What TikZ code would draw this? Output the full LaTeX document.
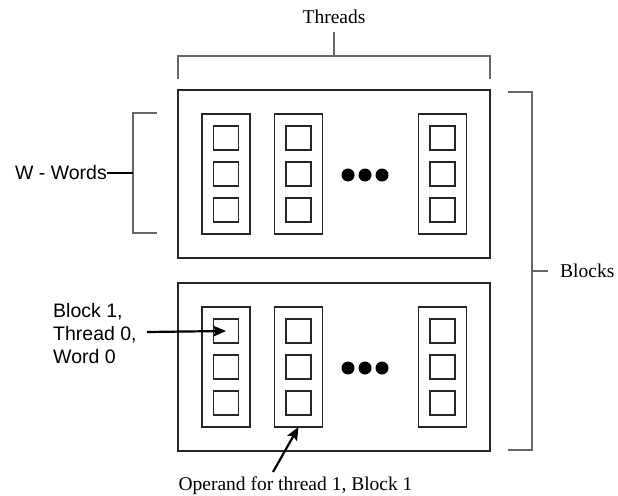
\documentclass[tikz,border=0pt]{standalone}
\usepackage{fontspec}
\setmainfont{Liberation Serif}
\setsansfont{Liberation Sans}
\usetikzlibrary{arrows.meta}

\tikzset{
  blockbox/.style={draw=black!85, line width=1.1pt, minimum width=312pt,
    minimum height=168pt, inner sep=0pt, outer sep=0pt},
  threadcol/.style={draw=black!85, line width=1.1pt, minimum width=48pt,
    minimum height=120pt, inner sep=0pt, outer sep=0pt},
  wordcell/.style={draw=black!85, line width=1.1pt, minimum width=25pt,
    minimum height=24pt, inner sep=0pt, outer sep=0pt},
  bracketline/.style={draw=black!60, line width=1.4pt},
  dotmark/.style={circle, fill=black, minimum size=13pt, inner sep=0pt},
  pointer/.style={draw=black, line width=2.2pt,
    -{Stealth[length=13pt, width=11pt, inset=2.5pt]}},
  seriflabel/.style={font=\rmfamily\fontsize{19.5}{23}\selectfont, inner sep=0pt},
  sanslabel/.style={font=\sffamily\fontsize{19.5}{23}\selectfont, inner sep=0pt}
}

\begin{document}
\begin{tikzpicture}[x=1pt, y=-1pt]
  \useasboundingbox (0,0) rectangle (618,495);

  % two blocks, each with three thread columns of three words
  \foreach \b/\cy in {0/174, 1/367} {
    \node[blockbox] (blk\b) at (334,\cy) {};
    \foreach \t/\cx in {0/226, 1/298.5, 2/442.5} {
      \node[threadcol] (col\b\t) at (\cx,\cy) {};
      \foreach \w/\dy in {0/-36, 1/0, 2/36} {
        \node[wordcell] (w\b\t\w) at (\cx,\cy+\dy) {};
      }
    }
    \foreach \d/\dx in {0/348, 1/365, 2/382} {
      \node[dotmark] (dot\b\d) at (\dx,\cy+1) {};
    }
  }

  % Threads bracket
  \node[seriflabel, anchor=base] (thr) at (334,24) {Threads};
  \coordinate (thrL) at (178,79);
  \coordinate (thrR) at (490,79);
  \coordinate (thrM) at (334,56);
  \coordinate (thrS) at (334,32);
  \draw[bracketline] (thrL) |- (thrR |- thrM) -- (thrR);
  \draw[bracketline] (thrM) -- (thrS);

  % Blocks bracket
  \node[seriflabel, anchor=base west] (blk) at (560,277) {Blocks};
  \coordinate (bkT) at (508,92);
  \coordinate (bkB) at (508,450);
  \coordinate (bkM) at (532,271);
  \draw[bracketline] (bkT) -| (bkM |- bkB) -- (bkB);
  \draw[bracketline] (bkM) -- (548,271);

  % Words bracket
  \node[sanslabel, anchor=east] (wrd) at (107,173) {W - Words};
  \coordinate (wdT) at (157,113);
  \coordinate (wdB) at (157,233);
  \coordinate (wdM) at (133,173);
  \draw[bracketline] (wdT) -| (wdM |- wdB) -- (wdB);
  \draw[bracketline, draw=black, line width=1.1pt] (wrd.east) -- (wdM);

  % annotations
  \node[sanslabel, anchor=base west, align=left] (b1t0) at (53,363)
    {Block 1,\\Thread 0,\\Word 0};
  \coordinate (b1t0tail) at (147,332);
  \draw[pointer] (b1t0tail) -- (w100.center);

  \node[seriflabel, anchor=base] (oper) at (295.5,490)
    {Operand for thread 1, Block 1};
  \coordinate (opertail) at (273,472);
  \draw[pointer] (opertail) -- (col11.south);
\end{tikzpicture}
\end{document}
